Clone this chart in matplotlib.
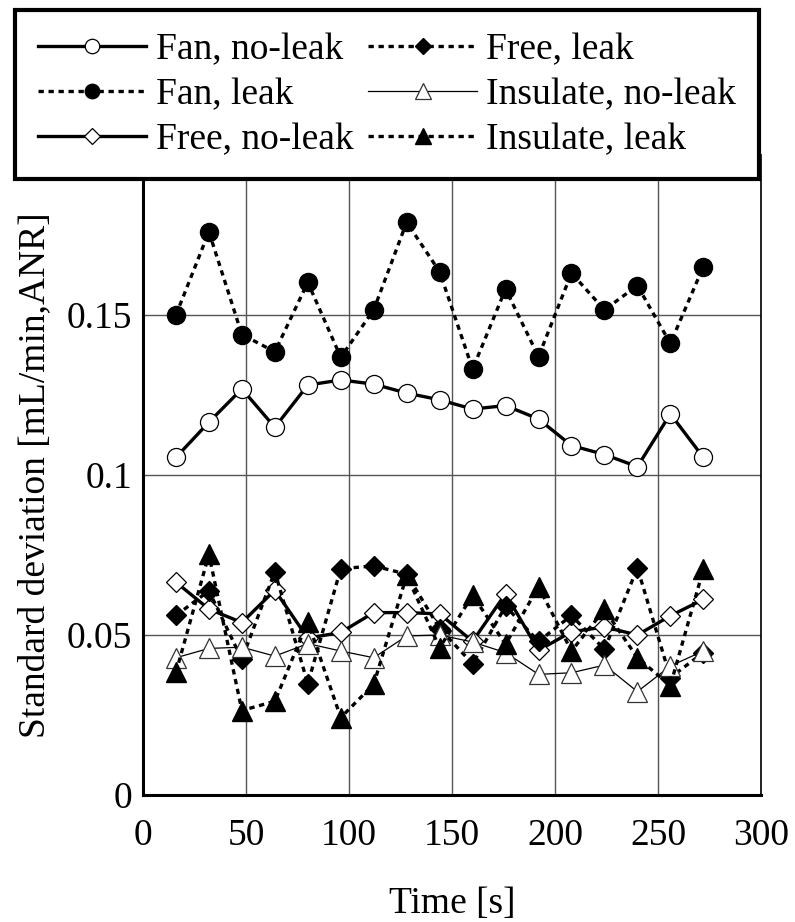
import matplotlib

matplotlib.use("Agg")
import matplotlib.pyplot as plt

plt.rcParams.update({
    "font.family": ["Liberation Serif", "DejaVu Serif"],
    "font.size": 27,
})

# sampling times [s]
time_s = [16, 32, 48, 64, 80, 96, 112, 128, 144, 160, 176, 192, 208, 224, 240, 256, 272]

fan_noleak = [0.1055, 0.1165, 0.1269, 0.1149, 0.1281, 0.1297, 0.1284, 0.1256, 0.1235,
              0.1206, 0.1217, 0.1175, 0.1092, 0.1064, 0.1026, 0.1191, 0.1055]
fan_leak = [0.150, 0.176, 0.1439, 0.1385, 0.1602, 0.1368, 0.1516, 0.179, 0.1635,
            0.1331, 0.1581, 0.137, 0.1631, 0.1516, 0.1592, 0.1411, 0.1651]
free_noleak = [0.0665, 0.0581, 0.0539, 0.064, 0.049, 0.0508, 0.057, 0.057, 0.0566,
               0.048, 0.0629, 0.0452, 0.051, 0.0525, 0.050, 0.056, 0.0611]
free_leak = [0.0561, 0.0638, 0.0424, 0.0698, 0.0348, 0.0707, 0.0716, 0.069, 0.052,
             0.041, 0.059, 0.048, 0.0561, 0.0455, 0.071, 0.0367, 0.0445]
insulate_noleak = [0.0429, 0.0458, 0.0462, 0.0434, 0.0473, 0.045, 0.0429, 0.0497, 0.050,
                   0.0478, 0.0445, 0.0377, 0.0382, 0.0406, 0.0323, 0.0403, 0.045]
insulate_leak = [0.0383, 0.0752, 0.0264, 0.0293, 0.0542, 0.0242, 0.0346, 0.0686, 0.046,
                 0.0624, 0.0471, 0.0651, 0.045, 0.058, 0.0429, 0.0342, 0.0705]

y_ticks = [0, 0.05, 0.1, 0.15, 0.2]
y_tick_labels = ["0", "0.05", "0.1", "0.15", "0.2"]
x_ticks = [0, 50, 100, 150, 200, 250, 300]

DOT = (0, (1.6, 1.4))

fig = plt.figure(figsize=(7.95, 9.22), dpi=100)
ax = fig.add_axes([143 / 795, 127 / 922, 618 / 795, 640 / 922])

series = [
    (fan_noleak, "Fan, no-leak",
     dict(ls="-", lw=2.4, marker="o", ms=13, mfc="white", mec="black", mew=0.9)),
    (fan_leak, "Fan, leak",
     dict(ls=DOT, lw=2.4, marker="o", ms=13, mfc="black", mec="black")),
    (free_noleak, "Free, no-leak",
     dict(ls="-", lw=2.4, marker="D", ms=10.5, mfc="white", mec="black", mew=0.9)),
    (free_leak, "Free, leak",
     dict(ls=DOT, lw=2.4, marker="D", ms=10.5, mfc="black", mec="black")),
    (insulate_noleak, "Insulate, no-leak",
     dict(ls="-", lw=0.9, marker="^", ms=14, mfc="white", mec="#333333", mew=0.9)),
    (insulate_leak, "Insulate, leak",
     dict(ls=DOT, lw=2.4, marker="^", ms=14, mfc="black", mec="black")),
]

handles = []
for values, label, style in series:
    (h,) = ax.plot(time_s, values, color="black", label=label, zorder=3,
                   dash_capstyle="butt", **style)
    handles.append(h)

ax.set_xlim(0, 300)
ax.set_ylim(0, 0.2)
ax.set_xticks(x_ticks)
ax.set_yticks(y_ticks)
ax.set_yticklabels(y_tick_labels)
ax.tick_params(axis="x", length=0, pad=17)
ax.tick_params(axis="y", length=0, pad=8)
ax.grid(True, color="#555555", lw=1.0)
ax.set_axisbelow(True)
for side in ["left", "bottom"]:
    ax.spines[side].set_linewidth(2.2)
ax.spines["right"].set_linewidth(1.2)
ax.spines["top"].set_visible(False)

ax.set_xlabel("Time [s]", labelpad=24)
ax.set_ylabel("Standard deviation [mL/min,ANR]", labelpad=10)

leg = fig.legend(handles=handles, ncol=2, loc="upper left",
                 bbox_to_anchor=(15 / 795, 1 - 10 / 922), borderaxespad=0,
                 handlelength=2.9, handletextpad=0.25, columnspacing=0.4,
                 labelspacing=0.28, borderpad=0.6, markerscale=0.8,
                 fancybox=False, framealpha=1, edgecolor="black", fontsize=27)
leg.get_frame().set_linewidth(3)

fig.savefig("out.png", dpi=100)
